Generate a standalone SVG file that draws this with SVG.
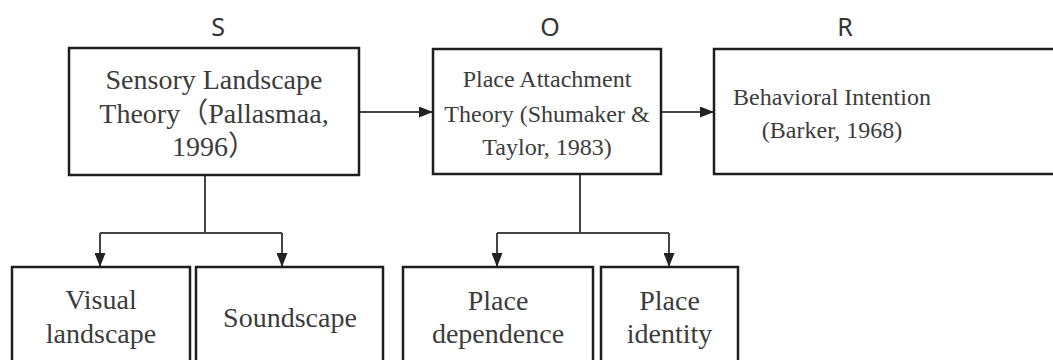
<svg xmlns="http://www.w3.org/2000/svg" width="1053" height="360" viewBox="0 0 1053 360">
<defs>
<style>
.box{fill:#fff;stroke:#1e1e1e;stroke-width:2.5}
.t{font-family:"Liberation Serif","Noto Sans CJK SC",serif;fill:#3c3c3c;text-anchor:middle}
.t28{font-size:28px}
.t24{font-size:24px}
.lbl{font-family:"Noto Sans","Open Sans",sans-serif;font-size:25px;fill:#333;text-anchor:middle}
.c{fill:none;stroke:#444;stroke-width:2}
</style>
<marker id="ah" markerWidth="14" markerHeight="11" refX="14" refY="5.5" orient="auto" markerUnits="userSpaceOnUse">
<path d="M0,0 L14,5.5 L0,11 Z" fill="#222"/>
</marker>
</defs>
<rect width="1053" height="360" fill="#fff"/>
<g id="labels">
<text class="lbl" x="218" y="36">S</text>
<text class="lbl" x="550" y="36">O</text>
<text class="lbl" x="845" y="36">R</text>
</g>
<g id="connectors">
<path class="c" d="M359,112 H433" marker-end="url(#ah)"/>
<path class="c" d="M661,112 H714" marker-end="url(#ah)"/>
<path class="c" d="M205,175 V233"/>
<path class="c" d="M100,233 H282"/>
<path class="c" d="M100,233 V267" marker-end="url(#ah)"/>
<path class="c" d="M282,233 V267" marker-end="url(#ah)"/>
<path class="c" d="M580,174 V233"/>
<path class="c" d="M497,233 H669"/>
<path class="c" d="M497,233 V267" marker-end="url(#ah)"/>
<path class="c" d="M669,233 V267" marker-end="url(#ah)"/>
</g>
<g id="node-s">
<rect class="box" x="69" y="48" width="290" height="127"/>
<text class="t t28" x="214" y="88.5">Sensory Landscape</text>
<text class="t t28" x="214" y="122.5">Theory（Pallasmaa,</text>
<text class="t t28" x="214" y="156">1996）</text>
</g>
<g id="node-o">
<rect class="box" x="433" y="49" width="228" height="125"/>
<text class="t t24" x="547" y="87">Place Attachment</text>
<text class="t t24" x="547" y="122">Theory (Shumaker &amp;</text>
<text class="t t24" x="547" y="155">Taylor, 1983)</text>
</g>
<g id="node-r">
<rect class="box" x="714" y="49" width="360" height="125"/>
<text class="t t24" x="832" y="105">Behavioral Intention</text>
<text class="t t24" x="832" y="138">(Barker, 1968)</text>
</g>
<g id="node-visual">
<rect class="box" x="12" y="267" width="178" height="110"/>
<text class="t t28" x="101" y="309">Visual</text>
<text class="t t28" x="101" y="343">landscape</text>
</g>
<g id="node-sound">
<rect class="box" x="196" y="267" width="187" height="110"/>
<text class="t t28" x="290" y="327">Soundscape</text>
</g>
<g id="node-dependence">
<rect class="box" x="403" y="267" width="190" height="110"/>
<text class="t t28" x="498" y="310">Place</text>
<text class="t t28" x="498" y="343">dependence</text>
</g>
<g id="node-identity">
<rect class="box" x="601" y="267" width="137" height="110"/>
<text class="t t28" x="669.5" y="310">Place</text>
<text class="t t28" x="669.5" y="343">identity</text>
</g>
</svg>
